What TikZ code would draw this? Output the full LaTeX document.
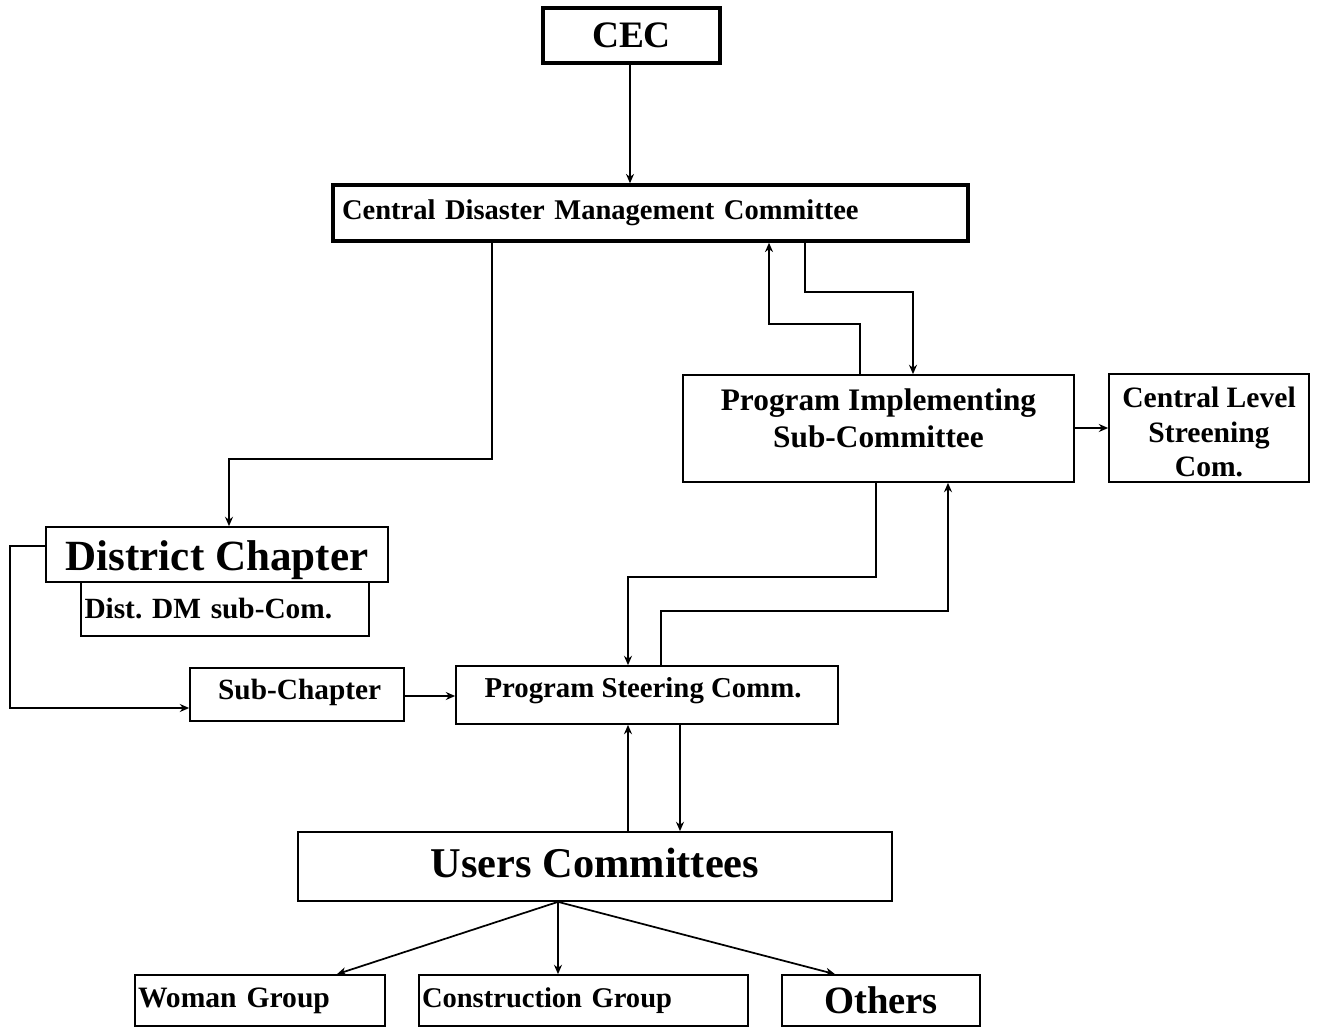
\documentclass[tikz,border=0pt]{standalone}
\usepackage{fontspec}
\setmainfont{Liberation Serif}
\usetikzlibrary{arrows.meta}
\newcommand{\fs}[2]{\fontsize{#1}{#2}\selectfont}
\frenchspacing
\begin{document}
\begin{tikzpicture}[x=0.75pt,y=-0.75pt,
  box/.style={draw,line width=1.3pt,inner sep=0pt,font=\bfseries},
  thickbox/.style={draw,line width=2.6pt,inner sep=0pt,font=\bfseries},
  arr/.style={line width=1.3pt,-{Stealth[length=7pt,width=6pt]}}]
\useasboundingbox (0,0) rectangle (1318,1028);
% nodes
\node[thickbox,minimum width={177*0.75pt},minimum height={55*0.75pt},font=\bfseries\fs{28}{30}] (cec) at (631.5,35.5) {CEC};
\node[thickbox,minimum width={635*0.75pt},minimum height={56*0.75pt},text width={617*0.75pt},align=left,font=\bfseries\fs{21.4}{24}] (cdmc) at (650.5,213) {Central Disaster Management Committee};
\node[box,minimum width={391*0.75pt},minimum height={107*0.75pt},
  label={[font=\bfseries\fs{23.5}{28},align=center,yshift=7.5pt]center:Program Implementing\\Sub-Committee}] (pisc) at (878.5,428.5) {};
\node[box,minimum width={200*0.75pt},minimum height={108*0.75pt},
  label={[font=\bfseries\fs{22.2}{26},align=center,yshift=-3pt]center:Central Level\\Streening\\Com.}] (clsc) at (1209,428) {};
\node[box,minimum width={288*0.75pt},minimum height={54*0.75pt},text width={281*0.75pt},align=left,font=\bfseries\fs{22}{24}] (dm) at (225,609) {Dist. DM sub-Com.};
\node[box,fill=white,minimum width={342*0.75pt},minimum height={55*0.75pt},
  label={[font=\bfseries\fs{32.3}{34},yshift=-4.5pt]center:District Chapter}] (dc) at (217,554.5) {};
\node[box,minimum width={214*0.75pt},minimum height={53*0.75pt},
  label={[font=\bfseries\fs{22}{24},xshift=2pt,yshift=1.5pt]center:Sub-Chapter}] (sc) at (297,694.5) {};
\node[box,minimum width={382*0.75pt},minimum height={58*0.75pt},
  label={[font=\bfseries\fs{21.6}{24},xshift=-3pt,yshift=3pt]center:Program Steering Comm.}] (psc) at (647,695) {};
\node[box,minimum width={594*0.75pt},minimum height={69*0.75pt},
  label={[font=\bfseries\fs{31.8}{34},yshift=3pt]center:Users Committees}] (uc) at (595,866.5) {};
\node[box,minimum width={250*0.75pt},minimum height={51*0.75pt},text width={244*0.75pt},align=left,font=\bfseries\fs{22.2}{24}] (wg) at (260,1000.5) {Woman Group};
\node[box,minimum width={329*0.75pt},minimum height={51*0.75pt},text width={323*0.75pt},align=left,font=\bfseries\fs{21.4}{24}] (cg) at (583.5,1000.5) {Construction Group};
\node[box,minimum width={198*0.75pt},minimum height={51*0.75pt},font=\bfseries\fs{29}{30}] (ot) at (881,1000.5) {Others};
% helper coordinates
\coordinate (a229) at (229,0);
\coordinate (a492) at (492,0);
\coordinate (a630) at (630,0);
\coordinate (a769) at (769,0);
\coordinate (a805) at (805,0);
\coordinate (a860) at (860,0);
\coordinate (a913) at (913,0);
\coordinate (a876) at (876,0);
\coordinate (a628) at (628,0);
\coordinate (a661) at (661,0);
\coordinate (a948) at (948,0);
\coordinate (a680) at (680,0);
\coordinate (a558) at (558,0);
\coordinate (a337) at (337,0);
\coordinate (a835) at (835,0);
\coordinate (p1) at (10,546);
\coordinate (p2) at (0,708);
\coordinate (p3) at (0,696);
\coordinate (p4) at (0,428);
% connectors
\draw[arr] (cec.south -| a630) -- (cdmc.north -| a630);
\draw[arr] (cdmc.south -| a492) -- ++(0,216) -| (dc.north -| a229);
\draw[arr] (pisc.north -| a860) -- ++(0,-50) -| (cdmc.south -| a769);
\draw[arr] (cdmc.south -| a805) -- ++(0,49) -| (pisc.north -| a913);
\draw[arr] (pisc.east |- p4) -- (clsc.west |- p4);
\draw[arr] (pisc.south -| a876) -- ++(0,94) -| (psc.north -| a628);
\draw[arr] (psc.north -| a661) -- ++(0,-54) -| (pisc.south -| a948);
\draw[arr] (dc.west |- p1) -- (p1) |- (sc.west |- p2);
\draw[arr] (sc.east |- p3) -- (psc.west |- p3);
\draw[arr] (uc.north -| a628) -- (psc.south -| a628);
\draw[arr] (psc.south -| a680) -- (uc.north -| a680);
\draw[arr] (uc.south -| a558) -- (wg.north -| a337);
\draw[arr] (uc.south -| a558) -- (cg.north -| a558);
\draw[arr] (uc.south -| a558) -- (ot.north -| a835);
\end{tikzpicture}
\end{document}
